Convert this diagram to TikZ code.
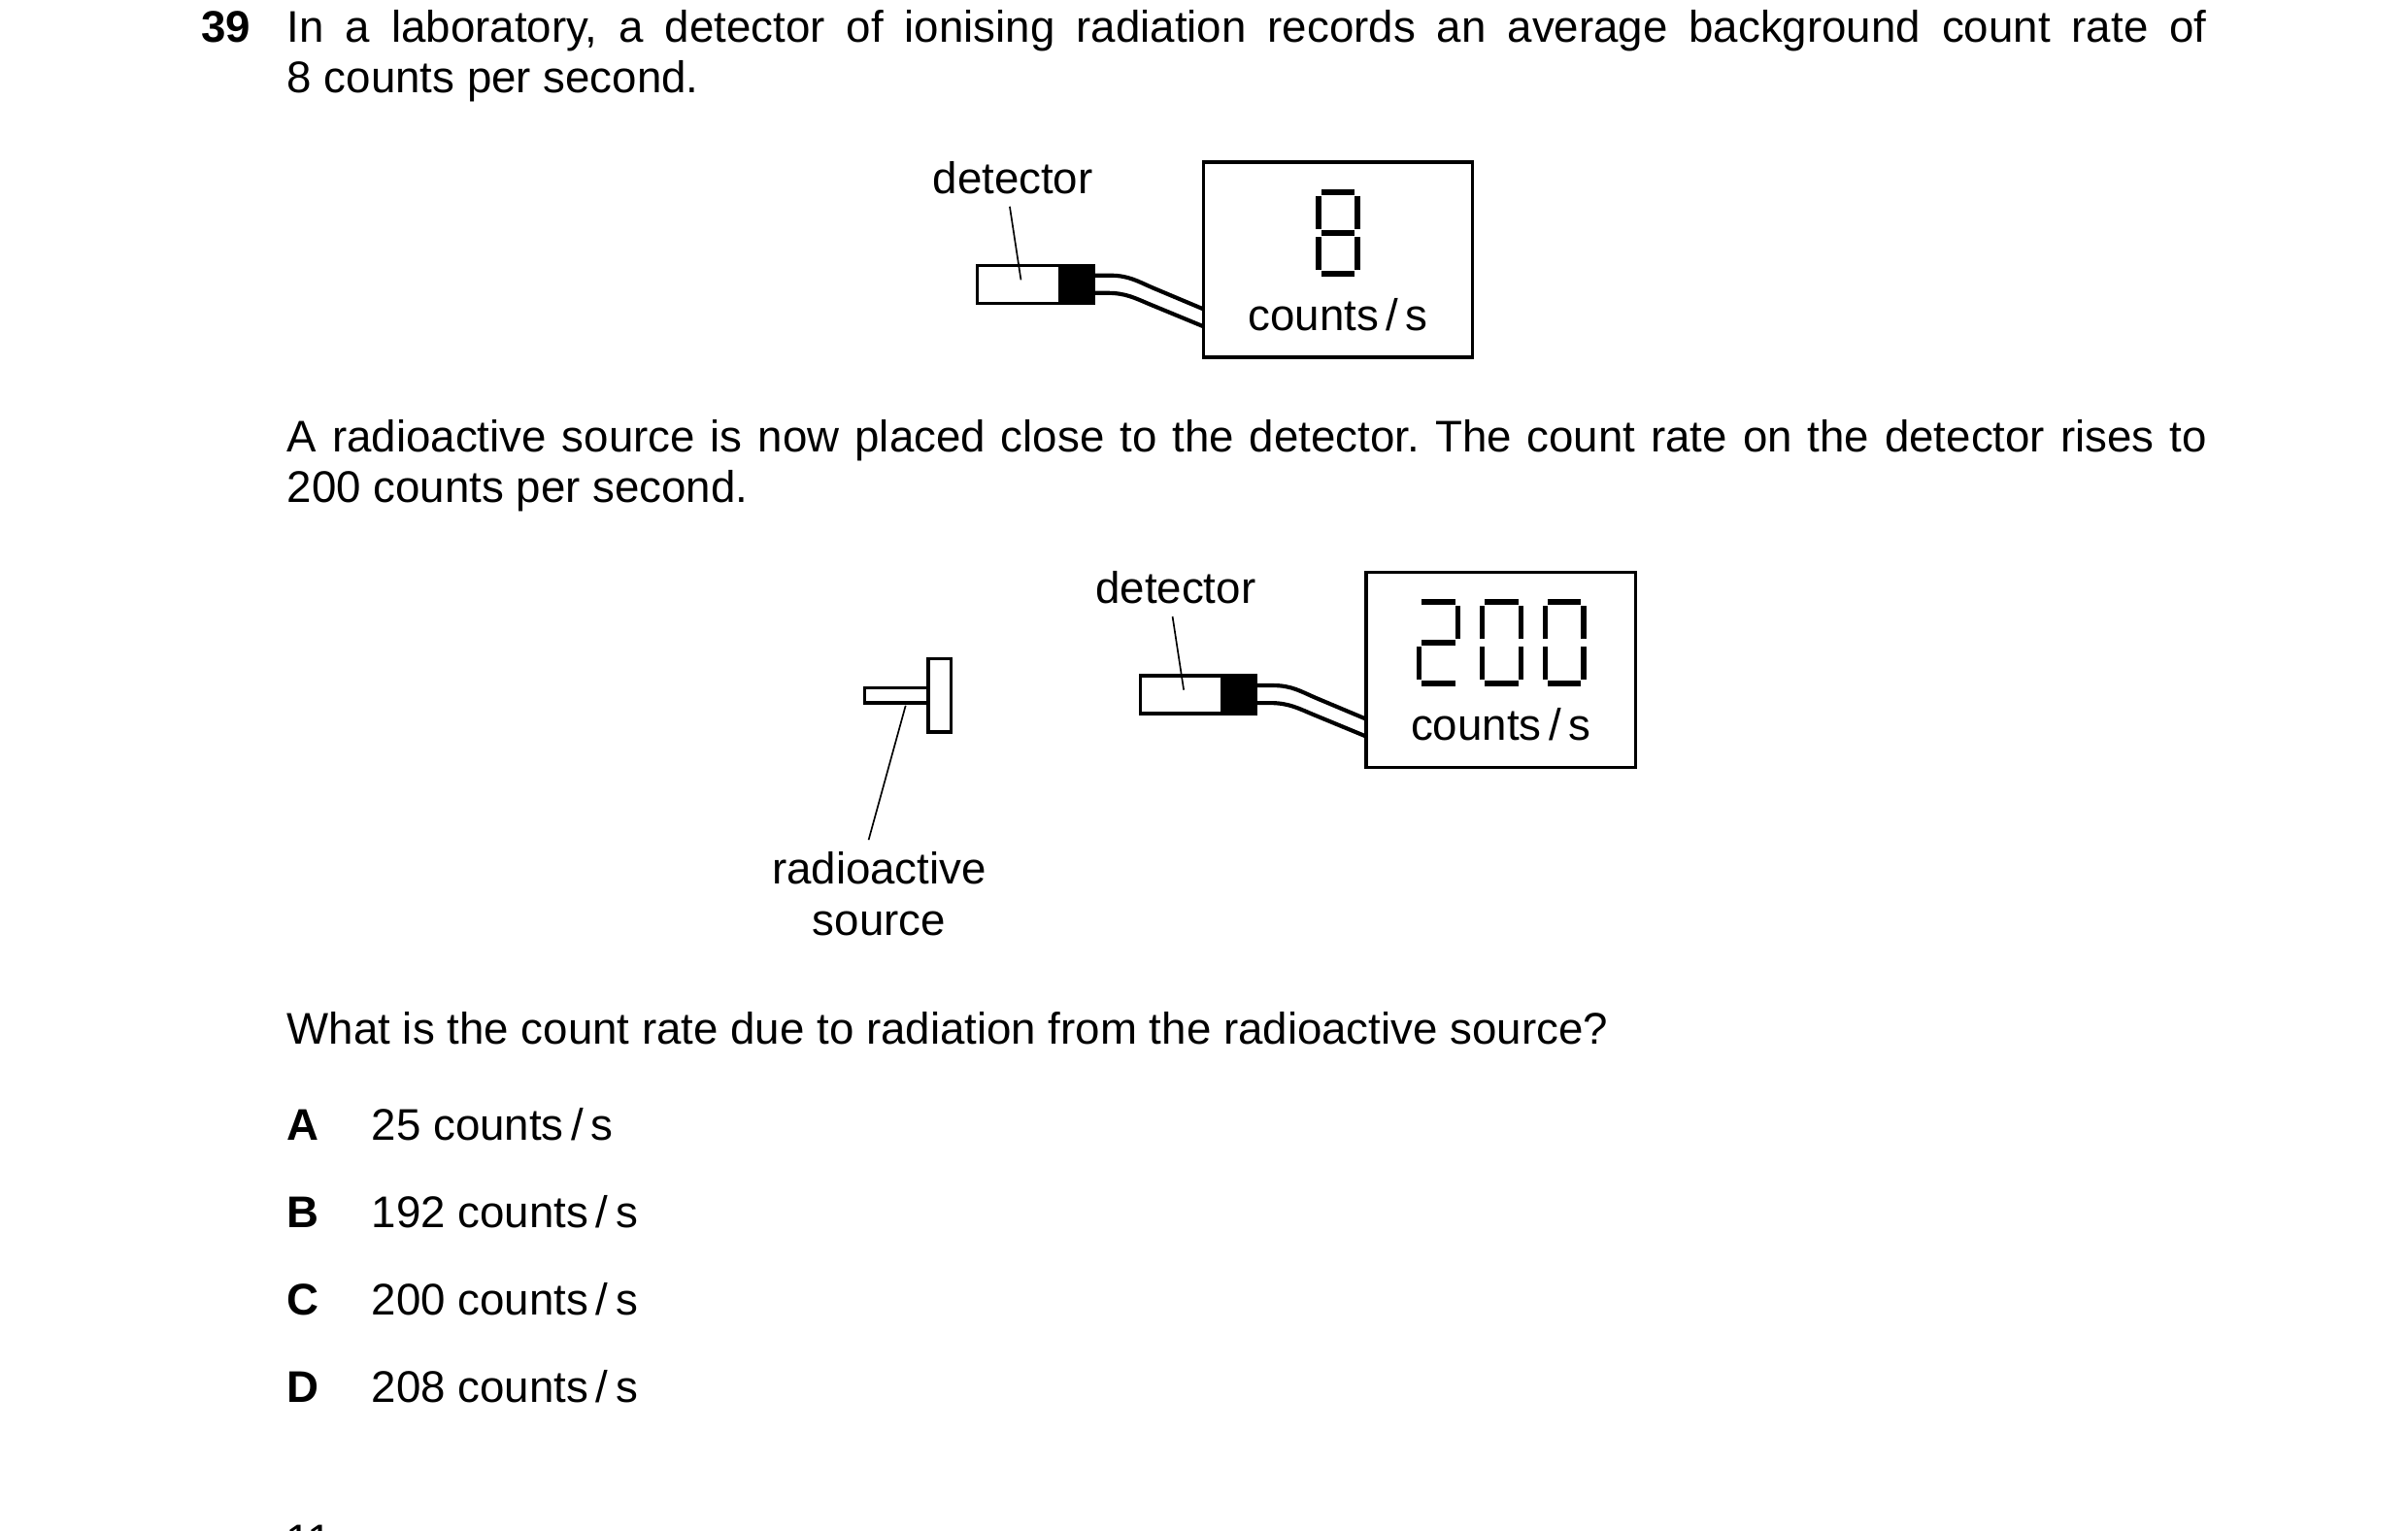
\documentclass[tikz,border=0pt]{standalone}
\usepackage{fontspec}
\setmainfont{Liberation Sans}
\frenchspacing
\newcommand\sgw{28.5}
\newcommand\sgh{57}
\newcommand\sgt{3.8}
\newcommand\sgv{3.4}
\newcommand\sgg{0.7}
\newcommand\sgA[2]{\fill[seg] ({#1+\sgv},{#2}) rectangle ({#1+\sgw-\sgv},{#2+\sgt});}
\newcommand\sgG[2]{\fill[seg] ({#1+\sgv},{#2+\sgh/2-\sgt/2}) rectangle ({#1+\sgw-\sgv},{#2+\sgh/2+\sgt/2});}
\newcommand\sgD[2]{\fill[seg] ({#1+\sgv},{#2+\sgh-\sgt}) rectangle ({#1+\sgw-\sgv},{#2+\sgh});}
\newcommand\sgF[2]{\fill[seg] ({#1},{#2+\sgt+\sgg}) rectangle ({#1+\sgv},{#2+\sgh/2-\sgt/2-\sgg});}
\newcommand\sgB[2]{\fill[seg] ({#1+\sgw-\sgv},{#2+\sgt+\sgg}) rectangle ({#1+\sgw},{#2+\sgh/2-\sgt/2-\sgg});}
\newcommand\sgE[2]{\fill[seg] ({#1},{#2+\sgh/2+\sgt/2+\sgg}) rectangle ({#1+\sgv},{#2+\sgh-\sgt-\sgg});}
\newcommand\sgC[2]{\fill[seg] ({#1+\sgw-\sgv},{#2+\sgh/2+\sgt/2+\sgg}) rectangle ({#1+\sgw},{#2+\sgh-\sgt-\sgg});}
\begin{document}
\begin{tikzpicture}[x=0.133929mm, y=-0.133929mm,
  txt/.style={inner sep=0pt, outer sep=0pt, font=\fontsize{11pt}{13pt}\selectfont},
  frame/.style={draw=black, line width=0.8pt},
  cable/.style={draw=black, line width=1.0pt},
  leader/.style={draw=black, line width=0.4pt},
  seg/.style={fill=black},
]
\fill[white] (0,0) rectangle (1568,997);
\useasboundingbox (0,0) rectangle (1568,997);

% ---- text ----
\node[txt, anchor=base west] (q39) at (131,27.4) {\textbf{39}};
\node[txt, anchor=base west] (l1) at (187,27.4) {\makebox[167.4mm][s]{In a laboratory, a detector of ionising radiation records an average background count rate of}};
\node[txt, anchor=base west] (l2) at (187,60.5) {8 counts per second.};
\node[txt, anchor=base west] (l3) at (187,294.2) {\makebox[167.4mm][s]{A radioactive source is now placed close to the detector. The count rate on the detector rises to}};
\node[txt, anchor=base west] (l4) at (187,327.3) {200 counts per second.};
\node[txt, anchor=base west] (l5) at (187,680) {What is the count rate due to radiation from the radioactive source?};
\node[txt, anchor=base west] (oA) at (187,742.8) {\textbf{A}};
\node[txt, anchor=base west] (tA) at (242,742.8) {25 counts\,/\,s};
\node[txt, anchor=base west] (oB) at (187,799.6) {\textbf{B}};
\node[txt, anchor=base west] (tB) at (242,799.6) {192 counts\,/\,s};
\node[txt, anchor=base west] (oC) at (187,856.4) {\textbf{C}};
\node[txt, anchor=base west] (tC) at (242,856.4) {200 counts\,/\,s};
\node[txt, anchor=base west] (oD) at (187,913.4) {\textbf{D}};
\node[txt, anchor=base west] (tD) at (242,913.4) {208 counts\,/\,s};
\node[txt, anchor=base west] (pg) at (186,1013.4) {11};

% ---- diagram 1 ----
\node[txt, anchor=base] (det1) at (659.5,126) {detector};
\coordinate (d1a) at (657.5,134.5);
\coordinate (d1b) at (664.8,182.3);
\draw[frame, fill=white] (636.5,173) rectangle (690,197.7);
\draw[frame, fill=black] (690,173) rectangle (712,197.7);
\draw[leader] (d1a) -- (d1b);
\coordinate (c1u) at (712,179.4);
\coordinate (c1l) at (712,190.8);
\coordinate (b1u) at (783.6,201.3);
\coordinate (b1l) at (783.6,212.6);
\draw[cable] (c1u) -- (723,179.4) .. controls (735,179.4) and (741,183.3) .. (751,187.6) -- (b1u);
\draw[cable] (c1l) -- (721,190.8) .. controls (733,190.8) and (739,194.1) .. (749,198.3) -- (b1l);
\coordinate (box1nw) at (783.6,105.6);
\coordinate (box1se) at (959,232.6);
\draw[frame] (box1nw) rectangle (box1se);
\sgA{857}{123.1}\sgB{857}{123.1}\sgC{857}{123.1}\sgD{857}{123.1}
\sgE{857}{123.1}\sgF{857}{123.1}\sgG{857}{123.1}
\node[txt, anchor=base] (cnt1) at (871.3,215.2) {counts\,/\,s};

% ---- diagram 2 ----
\node[txt, anchor=base] (det2) at (765.5,393) {detector};
\coordinate (d2a) at (763.5,401.5);
\coordinate (d2b) at (770.8,449.3);
\draw[frame, fill=white] (742.5,440) rectangle (796,464.7);
\draw[frame, fill=black] (796,440) rectangle (818,464.7);
\draw[leader] (d2a) -- (d2b);
\coordinate (c2u) at (818,446.4);
\coordinate (c2l) at (818,457.8);
\coordinate (b2u) at (889.6,468.3);
\coordinate (b2l) at (889.6,479.6);
\draw[cable] (c2u) -- (829,446.4) .. controls (841,446.4) and (847,450.3) .. (857,454.6) -- (b2u);
\draw[cable] (c2l) -- (827,457.8) .. controls (839,457.8) and (845,461.1) .. (855,465.3) -- (b2l);
\coordinate (box2nw) at (889.6,372.6);
\coordinate (box2se) at (1065,499.6);
\draw[frame] (box2nw) rectangle (box2se);
% digit 2
\sgA{922.5}{390.1}\sgB{922.5}{390.1}\sgG{922.5}{390.1}\sgE{922.5}{390.1}\sgD{922.5}{390.1}
% digit 0
\sgA{963.5}{390.1}\sgB{963.5}{390.1}\sgC{963.5}{390.1}\sgD{963.5}{390.1}\sgE{963.5}{390.1}\sgF{963.5}{390.1}
% digit 0
\sgA{1004.5}{390.1}\sgB{1004.5}{390.1}\sgC{1004.5}{390.1}\sgD{1004.5}{390.1}\sgE{1004.5}{390.1}\sgF{1004.5}{390.1}
\node[txt, anchor=base] (cnt2) at (977.3,482.2) {counts\,/\,s};

% source
\draw[frame, fill=white] (563,448) rectangle (604.5,457.8);
\draw[frame, fill=white] (604.5,429) rectangle (619.4,476.8);
\coordinate (s1) at (589.7,459.5);
\coordinate (s2) at (565.6,547);
\draw[leader] (s1) -- (s2);
\node[txt, anchor=base] (src1) at (572.5,575.4) {radioactive};
\node[txt, anchor=base] (src2) at (572.5,609) {source};
\end{tikzpicture}
\end{document}
